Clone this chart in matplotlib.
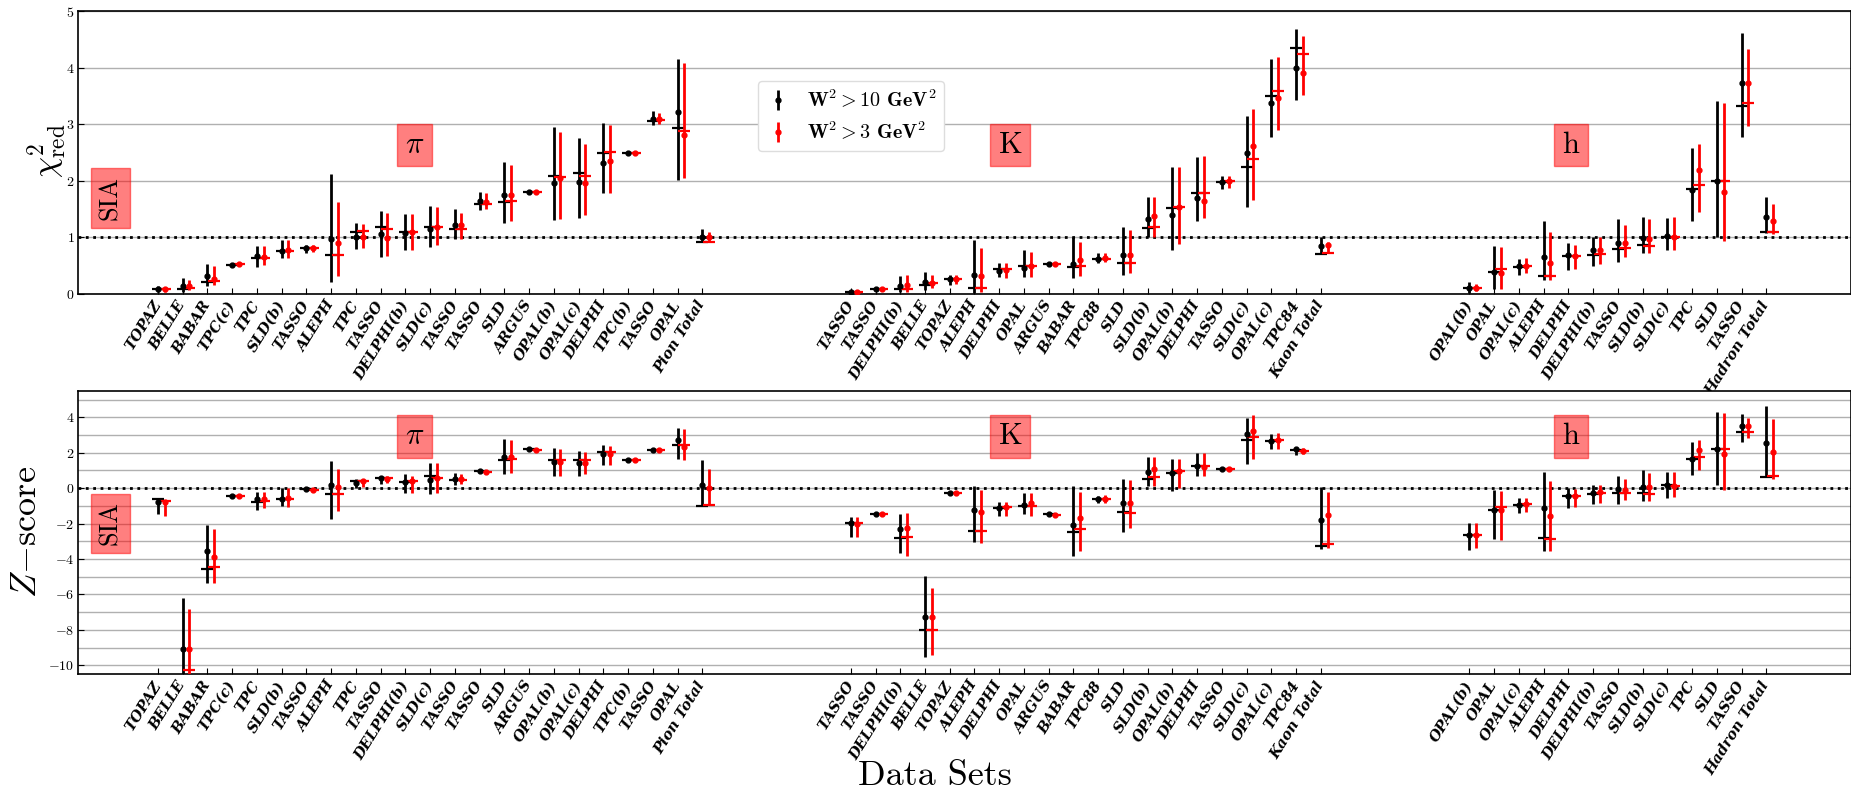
import matplotlib.pyplot as plt
import numpy as np
from matplotlib.font_manager import FontProperties

plt.rcParams['font.family'] = 'serif'
plt.rcParams['font.serif'] = ['cmr10']
plt.rcParams['mathtext.fontset'] = 'cm'
plt.rcParams['axes.formatter.use_mathtext'] = True

pion_labels = ['TOPAZ', 'BELLE', 'BABAR', 'TPC(c)', 'TPC', 'SLD(b)', 'TASSO', 'ALEPH',
               'TPC', 'TASSO', 'DELPHI(b)', 'SLD(c)', 'TASSO', 'TASSO', 'SLD', 'ARGUS',
               'OPAL(b)', 'OPAL(c)', 'DELPHI', 'TPC(b)', 'TASSO', 'OPAL', 'Pion Total']
kaon_labels = ['TASSO', 'TASSO', 'DELPHI(b)', 'BELLE', 'TOPAZ', 'ALEPH', 'DELPHI', 'OPAL',
               'ARGUS', 'BABAR', 'TPC88', 'SLD', 'SLD(b)', 'OPAL(b)', 'DELPHI', 'TASSO',
               'SLD(c)', 'OPAL(c)', 'TPC84', 'Kaon Total']
hadron_labels = ['OPAL(b)', 'OPAL', 'OPAL(c)', 'ALEPH', 'DELPHI', 'DELPHI(b)', 'TASSO',
                 'SLD(b)', 'SLD(c)', 'TPC', 'SLD', 'TASSO', 'Hadron Total']

# reduced chi^2, W^2 > 10 GeV^2 : value, lower, upper, alternative value
chi_w10 = [0.09, 0.14, 0.31, 0.51, 0.66, 0.75, 0.81, 0.97, 1.0, 1.06, 1.08, 1.14, 1.21, 1.65, 1.74, 1.8, 1.96, 1.97, 2.32, 2.49, 3.09, 3.21, 1.01,
           0.03, 0.08, 0.14, 0.21, 0.26, 0.33, 0.4, 0.46, 0.52, 0.52, 0.62, 0.68, 1.32, 1.4, 1.69, 1.98, 2.49, 3.37, 3.99, 0.84,
           0.11, 0.38, 0.49, 0.65, 0.68, 0.77, 0.9, 0.99, 1.02, 1.84, 2.0, 3.72, 1.36]
chi_w10_lo = [0.03, 0.03, 0.14, 0.48, 0.48, 0.64, 0.72, 0.21, 0.8, 0.65, 0.77, 0.83, 0.97, 1.48, 1.26, 1.77, 1.3, 1.34, 1.78, 2.46, 2.98, 2.02, 0.91,
              0.01, 0.06, 0.03, 0.06, 0.16, 0.02, 0.29, 0.29, 0.5, 0.28, 0.55, 0.33, 1.0, 0.77, 1.28, 1.86, 1.54, 2.77, 3.43, 0.71,
              0.02, 0.08, 0.33, 0.24, 0.42, 0.49, 0.56, 0.72, 0.77, 1.28, 1.0, 2.77, 1.08]
chi_w10_hi = [0.14, 0.28, 0.52, 0.54, 0.85, 0.96, 0.87, 2.11, 1.25, 1.46, 1.41, 1.55, 1.5, 1.8, 2.33, 1.83, 2.95, 2.75, 3.02, 2.52, 3.24, 4.16, 1.15,
              0.05, 0.1, 0.31, 0.38, 0.34, 0.96, 0.55, 0.78, 0.54, 1.0, 0.72, 1.18, 1.72, 2.25, 2.42, 2.09, 3.15, 4.15, 4.69, 1.0,
              0.21, 0.85, 0.62, 1.29, 0.9, 1.0, 1.32, 1.35, 1.34, 2.58, 3.41, 4.61, 1.72]
chi_w10_alt = [0.08, 0.08, 0.21, 0.51, 0.64, 0.75, 0.81, 0.69, 1.1, 1.19, 1.09, 1.19, 1.14, 1.58, 1.62, 1.8, 2.08, 2.14, 2.49, 2.49, 3.06, 2.93, 0.91,
               0.03, 0.08, 0.09, 0.16, 0.26, 0.11, 0.43, 0.49, 0.52, 0.48, 0.61, 0.55, 1.16, 1.52, 1.79, 1.98, 2.25, 3.49, 4.35, 0.71,
               0.11, 0.38, 0.48, 0.32, 0.66, 0.68, 0.8, 0.86, 1.01, 1.85, 2.0, 3.33, 1.09]

# reduced chi^2, W^2 > 3 GeV^2
chi_w3 = [0.08, 0.13, 0.26, 0.52, 0.65, 0.77, 0.81, 0.89, 1.0, 0.98, 1.1, 1.18, 1.21, 1.62, 1.74, 1.8, 2.05, 1.96, 2.34, 2.49, 3.09, 2.8, 1.0,
          0.03, 0.08, 0.15, 0.19, 0.26, 0.31, 0.42, 0.49, 0.52, 0.59, 0.64, 0.68, 1.37, 1.54, 1.65, 2.0, 2.61, 3.46, 3.91, 0.86,
          0.11, 0.37, 0.49, 0.55, 0.66, 0.77, 0.9, 0.97, 1.0, 2.19, 1.8, 3.72, 1.28]
chi_w3_lo = [0.04, 0.06, 0.15, 0.5, 0.51, 0.64, 0.74, 0.32, 0.81, 0.66, 0.77, 0.86, 0.97, 1.5, 1.29, 1.77, 1.32, 1.4, 1.79, 2.46, 3.0, 2.05, 0.91,
             0.01, 0.06, 0.04, 0.1, 0.18, 0.03, 0.28, 0.29, 0.5, 0.31, 0.56, 0.37, 1.0, 0.88, 1.34, 1.87, 1.66, 2.9, 3.52, 0.72,
             0.05, 0.08, 0.36, 0.24, 0.44, 0.52, 0.65, 0.72, 0.78, 1.44, 0.93, 2.96, 1.06]
chi_w3_hi = [0.12, 0.24, 0.49, 0.54, 0.84, 0.96, 0.86, 1.62, 1.24, 1.43, 1.41, 1.54, 1.43, 1.78, 2.28, 1.83, 2.87, 2.65, 2.98, 2.52, 3.2, 4.09, 1.09,
             0.05, 0.1, 0.34, 0.34, 0.33, 0.81, 0.55, 0.74, 0.54, 0.92, 0.72, 1.12, 1.71, 2.24, 2.44, 2.08, 3.27, 4.19, 4.56, 0.92,
             0.17, 0.82, 0.64, 1.09, 0.86, 1.0, 1.21, 1.32, 1.35, 2.65, 3.37, 4.33, 1.59]
chi_w3_alt = [0.08, 0.1, 0.22, 0.52, 0.64, 0.75, 0.81, 0.68, 1.11, 1.15, 1.1, 1.18, 1.14, 1.59, 1.65, 1.8, 2.06, 2.09, 2.5, 2.49, 3.07, 2.88, 0.91,
              0.03, 0.08, 0.09, 0.19, 0.26, 0.11, 0.43, 0.49, 0.52, 0.49, 0.62, 0.55, 1.18, 1.54, 1.78, 2.0, 2.39, 3.59, 4.25, 0.72,
              0.11, 0.44, 0.49, 0.31, 0.66, 0.71, 0.81, 0.84, 1.0, 1.92, 2.0, 3.37, 1.09]

# Z-score, W^2 > 10 GeV^2
z_w10 = [-0.79, -9.09, -3.55, -0.45, -0.64, -0.6, -0.04, 0.15, 0.3, 0.58, 0.34, 0.45, 0.53, 0.96, 1.77, 2.18, 1.46, 1.43, 1.9, 1.58, 2.16, 2.69, 0.15,
         -1.99, -1.45, -2.33, -7.27, -0.3, -1.24, -1.15, -0.98, -1.48, -2.08, -0.64, -0.86, 0.92, 0.86, 1.24, 1.09, 3.08, 2.65, 2.18, -1.8,
         -2.65, -1.26, -0.96, -1.11, -0.45, -0.26, -0.04, 0.08, 0.15, 1.65, 2.23, 3.49, 2.55]
z_w10_lo = [-1.45, -11.0, -5.33, -0.5, -1.24, -1.01, -0.1, -1.73, 0.02, 0.24, -0.26, -0.36, 0.15, 0.92, 0.81, 2.14, 0.68, 0.71, 1.28, 1.55, 2.12, 1.62, -1.01,
            -2.74, -1.5, -3.68, -9.52, -0.35, -3.02, -1.58, -1.48, -1.52, -3.83, -0.86, -2.46, 0.11, -0.17, 0.68, 1.05, 1.37, 2.18, 1.84, -3.46,
            -3.49, -2.89, -1.39, -3.55, -1.15, -0.92, -0.88, -0.73, -0.54, 0.73, 0.15, 2.61, 0.62]
z_w10_hi = [-0.6, -6.18, -2.1, -0.4, -0.21, 0.0, 0.0, 1.52, 0.53, 0.68, 0.77, 1.39, 0.86, 1.0, 2.78, 2.22, 2.27, 2.12, 2.46, 1.61, 2.2, 3.4, 1.56,
            -1.62, -1.4, -1.45, -4.96, -0.25, 0.11, -0.77, -0.26, -1.44, 0.11, -0.45, 0.54, 1.77, 1.67, 1.99, 1.13, 3.96, 3.08, 2.31, 0.08,
            -1.99, -0.11, -0.58, 0.9, 0.02, 0.15, 0.71, 1.0, 0.92, 2.61, 4.28, 4.19, 4.62]
z_w10_alt = [-0.64, -10.8, -4.54, -0.45, -0.77, -0.64, -0.04, -0.32, 0.39, 0.55, 0.34, 0.68, 0.45, 0.96, 1.56, 2.18, 1.56, 1.56, 2.05, 1.58, 2.16, 2.46, -1.01,
             -1.99, -1.45, -2.8, -8.0, -0.3, -2.42, -1.11, -1.01, -1.48, -2.46, -0.64, -1.33, 0.54, 0.86, 1.24, 1.09, 2.69, 2.65, 2.14, -3.27,
             -2.65, -1.26, -0.96, -2.84, -0.45, -0.36, -0.26, -0.26, 0.15, 1.65, 2.23, 3.17, 0.62]

# Z-score, W^2 > 3 GeV^2
z_w3 = [-0.79, -9.09, -3.87, -0.45, -0.64, -0.54, -0.08, 0.08, 0.39, 0.54, 0.39, 0.58, 0.53, 0.92, 1.77, 2.14, 1.48, 1.43, 1.95, 1.58, 2.16, 2.33, 0.02,
        -2.05, -1.45, -2.27, -7.27, -0.3, -1.33, -1.07, -0.86, -1.52, -1.71, -0.6, -0.86, 1.05, 0.96, 1.2, 1.09, 3.21, 2.74, 2.12, -1.54,
        -2.65, -1.26, -0.92, -1.58, -0.45, -0.23, -0.08, 0.08, 0.11, 2.14, 1.93, 3.53, 2.05]
z_w3_lo = [-1.58, -11.0, -5.37, -0.5, -1.11, -1.07, -0.12, -1.3, 0.07, 0.26, -0.26, -0.26, 0.21, 0.88, 0.86, 2.1, 0.68, 0.77, 1.33, 1.55, 2.12, 1.58, -0.96,
           -2.74, -1.5, -3.83, -9.43, -0.35, -3.12, -1.55, -1.58, -1.56, -3.55, -0.86, -2.27, 0.11, 0.02, 0.68, 1.05, 1.62, 2.23, 1.9, -3.36,
           -3.4, -2.95, -1.33, -3.55, -1.08, -0.83, -0.68, -0.73, -0.49, 1.01, -0.08, 2.84, 0.49]
z_w3_hi = [-0.68, -6.8, -2.29, -0.4, -0.21, 0.0, -0.02, 1.05, 0.53, 0.68, 0.68, 1.39, 0.77, 0.96, 2.74, 2.18, 2.22, 2.03, 2.37, 1.61, 2.2, 3.34, 1.05,
           -1.62, -1.4, -1.39, -5.62, -0.25, -0.13, -0.77, -0.3, -1.48, -0.21, -0.39, 0.45, 1.77, 1.67, 1.99, 1.13, 4.11, 3.12, 2.28, -0.21,
           -1.99, -0.17, -0.54, 0.39, -0.04, 0.15, 0.53, 0.86, 0.92, 2.7, 4.24, 3.96, 3.91]
z_w3_alt = [-0.73, -10.27, -4.45, -0.45, -0.73, -0.64, -0.08, -0.32, 0.39, 0.55, 0.39, 0.58, 0.45, 0.92, 1.65, 2.14, 1.56, 1.56, 2.05, 1.58, 2.16, 2.42, -0.96,
            -1.99, -1.45, -2.74, -8.0, -0.3, -2.42, -1.07, -1.01, -1.52, -2.33, -0.6, -1.39, 0.62, 0.96, 1.24, 1.09, 2.89, 2.74, 2.12, -3.14,
            -2.65, -1.07, -0.92, -2.89, -0.45, -0.3, -0.26, -0.32, 0.11, 1.77, 2.23, 3.17, 0.68]

group_gap = 5
offset = 0.27

sizes = [len(pion_labels), len(kaon_labels), len(hadron_labels)]
starts = np.cumsum([0] + [n + group_gap for n in sizes[:-1]])
x = np.concatenate([s + np.arange(n) for s, n in zip(starts, sizes)])
labels = pion_labels + kaon_labels + hadron_labels


def draw_series(ax, xpos, val, lo, hi, alt, color, label):
    val, lo, hi = np.array(val), np.array(lo), np.array(hi)
    yerr = [np.clip(val - lo, 0, None), np.clip(hi - val, 0, None)]
    h = ax.errorbar(xpos, val, yerr=yerr, fmt='o', color=color, ms=3.5,
                    elinewidth=2, capsize=0, label=label, zorder=3)
    ax.plot(xpos, alt, '_', color=color, ms=9, mew=1.6, zorder=3)
    return h


fig = plt.figure(figsize=(18.51, 7.94), dpi=100)
ax1 = fig.add_axes([0.0421, 0.630, 0.9579, 0.356])
ax2 = fig.add_axes([0.0421, 0.151, 0.9579, 0.357])

h10 = draw_series(ax1, x, chi_w10, chi_w10_lo, chi_w10_hi, chi_w10_alt, 'black',
                  r'$\mathbf{W^2 > 10}$ $\mathbf{GeV^2}$')
h3 = draw_series(ax1, x + offset, chi_w3, chi_w3_lo, chi_w3_hi, chi_w3_alt, 'red',
                 r'$\mathbf{W^2 > 3}$ $\mathbf{GeV^2}$')
draw_series(ax2, x, z_w10, z_w10_lo, z_w10_hi, z_w10_alt, 'black', None)
draw_series(ax2, x + offset, z_w3, z_w3_lo, z_w3_hi, z_w3_alt, 'red', None)

ax1.axhline(1, color='black', ls=':', lw=2, zorder=2)
ax2.axhline(0, color='black', ls=':', lw=2, zorder=2)

ax1.set_ylim(0, 5)
ax1.set_yticks(np.arange(0, 6))
ax2.set_ylim(-10.5, 5.5)
ax2.set_yticks(np.arange(-10, 5, 2))
ax2.set_yticks(np.arange(-10, 6), minor=True)

label_font = FontProperties(family='DejaVu Serif', style='italic', weight='bold', size=10.5)
for ax in (ax1, ax2):
    ax.set_xlim(-3.23, 68.42)
    ax.set_xticks(x)
    ax.set_xticklabels(labels, rotation=58, ha='right', va='center', rotation_mode='anchor',
                       fontproperties=label_font)
    ax.tick_params(axis='x', direction='in', length=4, pad=6)
    ax.tick_params(axis='y', direction='in', labelsize=10, length=4, pad=2.5)
    ax.set_axisbelow(True)
    for sp in ax.spines.values():
        sp.set_linewidth(1.2)

ax1.grid(axis='y', color='#b0b0b0', lw=1)
ax2.grid(axis='y', which='both', color='#b0b0b0', lw=1)
ax2.tick_params(axis='y', which='minor', length=0)

box = dict(facecolor='red', alpha=0.5, edgecolor='red', boxstyle='square,pad=0.25')
tags = [(10.36, r'$\pi$'), (34.44, r'$\mathrm{K}$'), (57.1, r'$\mathrm{h}$')]
for ax, ytag, ysia in ((ax1, 2.63, 1.7), (ax2, 2.9, -2.0)):
    for xt, t in tags:
        ax.text(xt, ytag, t, fontsize=22, ha='center', va='center', bbox=box)
    ax.text(-1.92, ysia, 'SIA', fontsize=19, rotation=90, ha='center', va='center',
            bbox=dict(box, boxstyle='square,pad=0.3'))

ax1.legend(handles=[h10, h3], loc='upper left', bbox_to_anchor=(0.378, 0.79),
           fontsize=14.5, handlelength=1.2, framealpha=1, edgecolor='#dddddd')

fig.text(0.0255, 0.81, r'$\chi^2_{\mathrm{red}}$', fontsize=24, rotation=90, ha='center', va='center')
fig.text(0.0145, 0.33, r'$Z\mathrm{-score}$', fontsize=26, rotation=90, ha='center', va='center')
fig.text(0.505, 0.022, 'Data Sets', fontsize=26, ha='center', va='center')

fig.savefig('out.png', dpi=100)
